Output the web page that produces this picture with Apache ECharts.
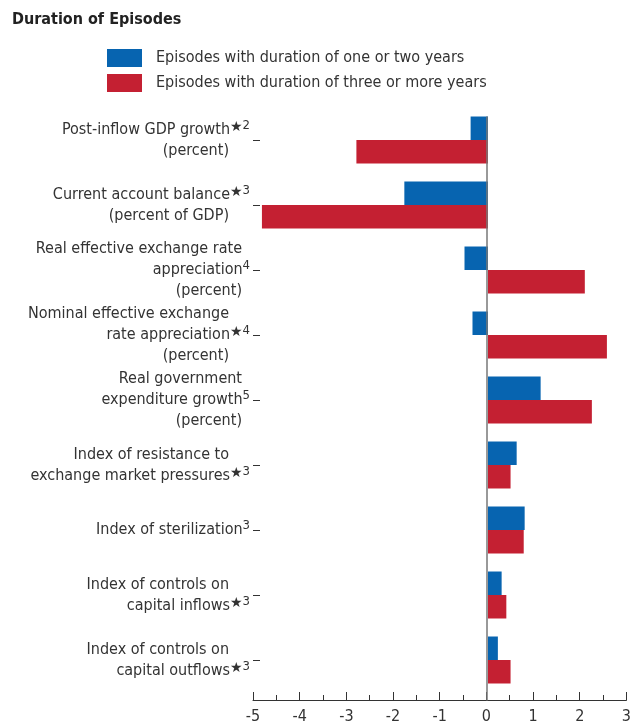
<!DOCTYPE html>
<html>
<head>
<meta charset="utf-8">
<script src="https://cdn.jsdelivr.net/npm/echarts@6/dist/echarts.min.js"></script>
<style>
html,body{margin:0;padding:0;background:#fff;}
#chart{width:634px;height:725px;}
</style>
</head>
<body>
<div id="chart"></div>
<script>
// ---- data ----
const titleText = 'Duration of Episodes';
const seriesNames = [
  'Episodes with duration of one or two years',
  'Episodes with duration of three or more years'
];
const categories = [
  'Post-inflow GDP growth\n(percent)',
  'Current account balance\n(percent of GDP)',
  'Real effective exchange rate\nappreciation\n(percent)',
  'Nominal effective exchange\nrate appreciation\n(percent)',
  'Real government\nexpenditure growth\n(percent)',
  'Index of resistance to\nexchange market pressures',
  'Index of sterilization',
  'Index of controls on\ncapital inflows',
  'Index of controls on\ncapital outflows'
];
const starred   = [true, true, false, true, false, true, false, true, true];
const footnotes = ['2', '3', '4', '4', '5', '3', '3', '3', '3'];
const footLine  = [0, 0, 1, 1, 1, 1, 0, 1, 1];
const shortEpisodes = [-0.37, -1.78, -0.50, -0.33, 1.12, 0.61, 0.78, 0.29, 0.21];
const longEpisodes  = [-2.80, -4.81, 2.06, 2.53, 2.21, 0.48, 0.76, 0.39, 0.48];
const xMin = -5, xMax = 3, xInterval = 1;

// ---- chart ----
const FONT = '"Liberation Sans Narrow", "DejaVu Sans Condensed", "Roboto Condensed", sans-serif';
const TXT = '#333333';
const BLUE = '#0764b0';
const RED = '#c42032';

function formatLabel(value) {
  const idx = categories.indexOf(value);
  const lines = value.split('\n');
  return lines.map(function (ln, i) {
    if (i === footLine[idx]) {
      return '{t|' + ln + '}' + (starred[idx] ? '{st|★}' : '') + '{sup|' + footnotes[idx] + '}';
    }
    return '{t|' + ln + '}' + (starred[idx] ? '{sp2| }' : '{sp1| }');
  }).join('\n');
}

const chart = echarts.init(document.getElementById('chart'), null, {renderer: 'canvas'});
chart.setOption({
  animation: false,
  backgroundColor: '#ffffff',
  title: {
    text: titleText,
    left: 7, top: 7,
    textStyle: {fontFamily: FONT, fontSize: 16, fontWeight: 'bold', color: '#222222'}
  },
  legend: {
    orient: 'vertical',
    left: 102, top: 44,
    itemWidth: 35, itemHeight: 18, itemGap: 7,
    icon: 'rect',
    data: seriesNames,
    selectedMode: false,
    textStyle: {fontFamily: FONT, fontSize: 16, color: TXT, padding: [0, 0, 0, 9]}
  },
  grid: [
    {left: 253, right: 5, top: 107.5, bottom: 32.5},
    {left: 253, right: 5, top: 117, bottom: 25}
  ],
  xAxis: [
    {
      type: 'value', gridIndex: 0, min: xMin, max: xMax, interval: xInterval,
      show: false, splitLine: {show: false}
    },
    {
      type: 'value', gridIndex: 1, min: xMin, max: xMax, interval: xInterval,
      axisLine: {show: true, onZero: false, lineStyle: {color: '#333333', width: 1}},
      axisTick: {show: true, inside: true, length: 8, lineStyle: {color: '#333333'}},
      minorTick: {show: true, splitNumber: 2, length: 5, lineStyle: {color: '#333333'}},
      splitLine: {show: false},
      axisLabel: {fontFamily: FONT, fontSize: 16, color: TXT, margin: 9}
    }
  ],
  yAxis: [
    {
      type: 'category', gridIndex: 0, inverse: true, data: categories,
      axisLine: {show: false, onZero: false},
      axisTick: {show: true, inside: true, length: 7, alignWithLabel: true, lineStyle: {color: '#333333'}},
      splitLine: {show: false},
      axisLabel: {
        margin: 3, interval: 0,
        formatter: formatLabel,
        align: 'right',
        rich: {
          t: {fontFamily: FONT, fontSize: 16, color: TXT, lineHeight: 21},
          st: {fontFamily: 'DejaVu Sans', fontSize: 14, color: TXT, lineHeight: 21, verticalAlign: 'top', padding: [1, 0, 0, 0]},
          sup: {fontFamily: FONT, fontSize: 13, color: TXT, lineHeight: 21, verticalAlign: 'top'},
          sp1: {fontSize: 13, width: 8, lineHeight: 21},
          sp2: {fontSize: 13, width: 21, lineHeight: 21}
        }
      }
    },
    {
      type: 'value', gridIndex: 1, min: 0, max: 1, z: 5,
      axisLine: {show: true, onZero: true, lineStyle: {color: '#777777', width: 1.5}},
      axisTick: {show: false}, axisLabel: {show: false}, splitLine: {show: false}
    }
  ],
  series: [
    {
      name: seriesNames[0], type: 'bar', xAxisIndex: 0, yAxisIndex: 0,
      data: shortEpisodes, itemStyle: {color: BLUE},
      barGap: '0%', barCategoryGap: '27.7%'
    },
    {
      name: seriesNames[1], type: 'bar', xAxisIndex: 0, yAxisIndex: 0,
      data: longEpisodes, itemStyle: {color: RED},
      barGap: '0%', barCategoryGap: '27.7%'
    }
  ]
});
</script>
</body>
</html>
